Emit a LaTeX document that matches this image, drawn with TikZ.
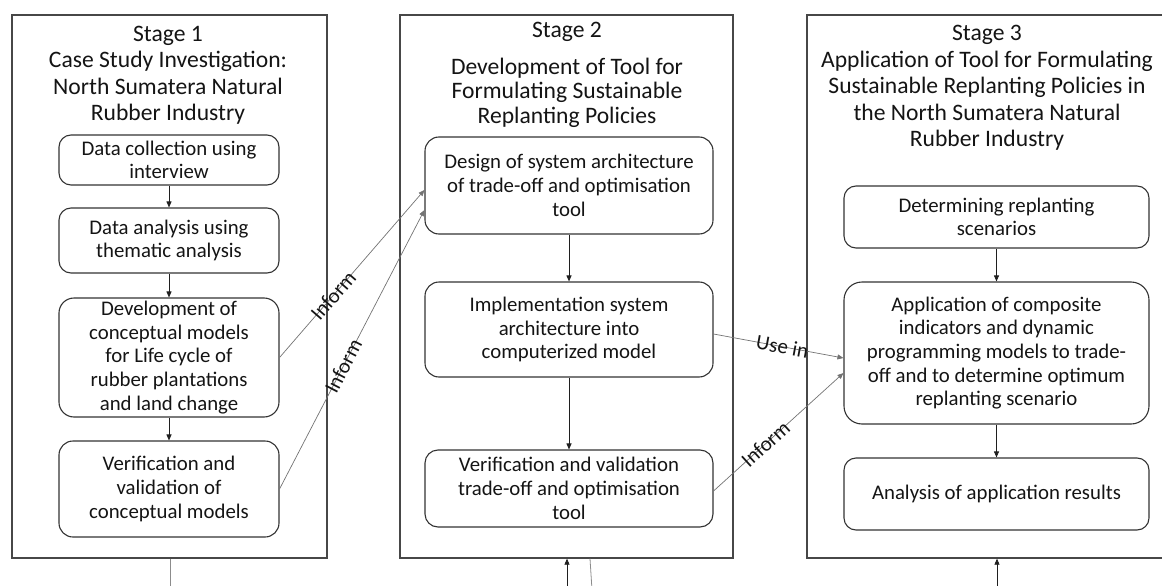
\documentclass[tikz,border=0pt]{standalone}
\usepackage{fontspec}
\setmainfont{Carlito}
\usetikzlibrary{arrows.meta}
\begin{document}
\begin{tikzpicture}[x=1pt,y=-1pt,
  stagebox/.style={draw=black!72,line width=1.3pt,rectangle,inner sep=0pt},
  titletext/.style={align=center,font=\fontsize{23.6}{26.5}\selectfont,inner sep=0pt,text=black!92},
  procbox/.style={draw=black!80,line width=1.1pt,rounded corners=12pt,align=center,inner sep=2pt,
    font=\fontsize{20.8}{23.7}\selectfont,text=black!92},
  flow/.style={draw=black!88,line width=0.9pt,-{Triangle[length=6pt,width=5pt]}},
  link/.style={draw=black!55,line width=0.7pt,-{Triangle[length=6pt,width=5pt]}},
  plainlink/.style={draw=black!45,line width=0.8pt},
  linklabel/.style={sloped,font=\fontsize{21}{24}\selectfont,inner sep=0pt,text=black!92}
]
\useasboundingbox (0,0) rectangle (1162,586);
\clip (0,0) rectangle (1162,586);

% stage frames
\node[stagebox,minimum width=315pt,minimum height=543pt] (st1) at (169.5,286.5) {};
\node[stagebox,minimum width=333pt,minimum height=543pt] (st2) at (566.5,286.5) {};
\node[stagebox,minimum width=373pt,minimum height=543pt] (st3) at (993.5,286.5) {};

% titles
\node[titletext] (t1) at (168,75) {Stage 1\\Case Study Investigation:\\North Sumatera Natural\\Rubber Industry};
\node[titletext] (t2a) at (567,32) {Stage 2};
\node[titletext,font=\fontsize{23.6}{24.5}\selectfont] (t2b) at (567,92.5) {Development of Tool for\\Formulating Sustainable\\Replanting Policies};
\node[titletext] (t3) at (987,88) {Stage 3\\Application of Tool for Formulating\\Sustainable Replanting Policies in\\the North Sumatera Natural\\Rubber Industry};

% stage 1 boxes
\node[procbox,minimum width=220pt,minimum height=50pt] (s1a) at (169,160) {Data collection using\\interview};
\node[procbox,minimum width=220pt,minimum height=65pt] (s1b) at (169,240.5) {Data analysis using\\thematic analysis};
\node[procbox,minimum width=220pt,minimum height=119pt,rounded corners=15pt] (s1c) at (169,357.5) {Development of\\conceptual models\\for Life cycle of\\rubber plantations\\and land change};
\node[procbox,minimum width=220pt,minimum height=96pt,rounded corners=14pt] (s1d) at (169,489) {Verification and\\validation of\\conceptual models};

% stage 2 boxes
\node[procbox,minimum width=288pt,minimum height=97pt,rounded corners=14pt] (s2a) at (569,185.5) {Design of system architecture\\of trade-off and optimisation\\tool};
\node[procbox,minimum width=288pt,minimum height=95pt,rounded corners=14pt] (s2b) at (569,329.5) {Implementation system\\architecture into\\computerized model};
\node[procbox,minimum width=288pt,minimum height=77pt,rounded corners=13pt] (s2c) at (569,488.5) {Verification and validation\\trade-off and optimisation\\tool};

% stage 3 boxes
\node[procbox,minimum width=305pt,minimum height=62pt] (s3a) at (996.5,217) {Determining replanting\\scenarios};
\node[procbox,minimum width=305pt,minimum height=142pt,rounded corners=18pt] (s3b) at (996.5,353) {Application of composite\\indicators and dynamic\\programming models to trade-\\off and to determine optimum\\replanting scenario};
\node[procbox,minimum width=305pt,minimum height=72pt] (s3c) at (996.5,494) {Analysis of application results};

% flows inside stages
\draw[flow] (s1a) -- (s1b);
\draw[flow] (s1b) -- (s1c);
\draw[flow] (s1c) -- (s1d);
\draw[flow] (s2a) -- (s2b);
\draw[flow] (s2b) -- (s2c);
\draw[flow] (s3a) -- (s3b);
\draw[flow] (s3b) -- (s3c);

% links between stages
\draw[link] (s1c.east) -- node[linklabel,pos=0.37] {Inform} ([yshift=-4.5pt]s2a.west);
\draw[link] (s1d.east) -- node[linklabel,pos=0.44] {Inform} ([yshift=-24.5pt]s2a.west);
\draw[link] ([yshift=-4.5pt]s2b.east) -- node[linklabel,pos=0.53] {Use in} ([yshift=-5pt]s3b.west);
\draw[link] ([yshift=-2.5pt]s2c.east) -- node[linklabel,pos=0.40] {Inform} ([yshift=-20pt]s3b.west);

% cut-off connectors at the bottom
\coordinate (e1) at (170,590);
\coordinate (e2) at (567,590);
\coordinate (e3) at (592,590);
\coordinate (e4) at (997,590);
\draw[plainlink] (e1 |- st1.south) -- (e1);
\draw[flow,line width=0.7pt] (e2) -- (e2 |- st2.south);
\draw[plainlink] ([xshift=23.5pt]st2.south) -- (e3);
\draw[flow,line width=0.7pt] (e4) -- (e4 |- st3.south);
\end{tikzpicture}
\end{document}
